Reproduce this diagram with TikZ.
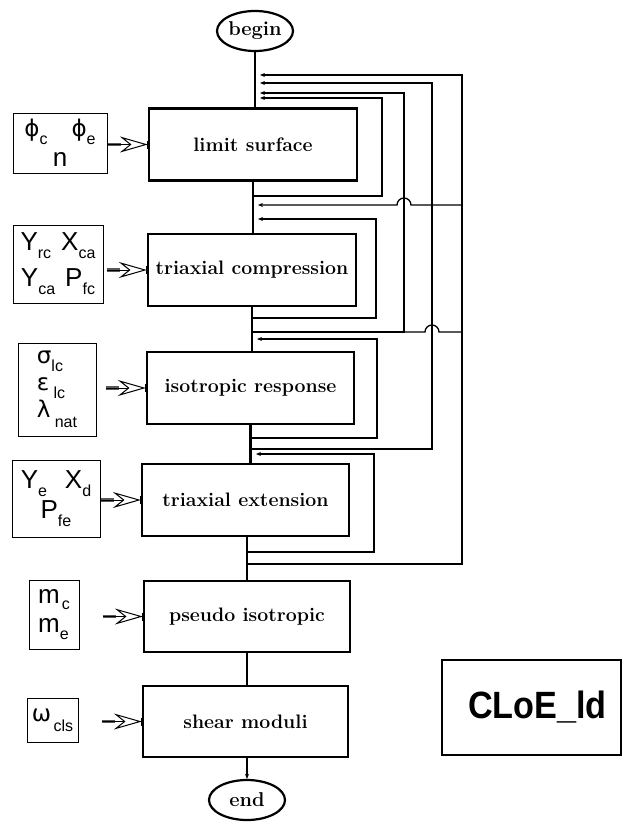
\documentclass[tikz,border=0pt]{standalone}
\usepackage{fontspec}
\usetikzlibrary{arrows.meta,calc,shapes.geometric}
\newfontfamily\pf{Liberation Sans}
\newfontfamily\gk{DejaVu Sans}
\newcommand\sbx[2][0.3em]{\raisebox{-#1}{\fontsize{16}{16}\selectfont\pf #2}}
\newcommand\G[1]{{\gk\fontsize{23}{26}\selectfont #1}}
\tikzset{
  stepbox/.style={draw, line width=2.3pt, inner sep=0pt, minimum height=72,
    font=\bfseries\fontsize{19.5}{23}\selectfont},
  term/.style={ellipse, draw, line width=2.2pt, inner sep=0pt, minimum width=76, minimum height=40,
    font=\bfseries\fontsize{20}{23}\selectfont},
  param/.style={draw, line width=0.9pt, inner sep=0pt, align=center,
    font=\pf\fontsize{26}{28}\selectfont},
  spine/.style={line width=2.3pt},
  fb/.style={line width=1.3pt},
  fbin/.style={fb, -{Stealth[length=5pt,width=4pt]}},
  inshaft/.style={line width=3.4pt, black!65},
  inhead/.style={line width=1pt, -{Stealth[open, length=28pt, width=16pt, inset=10pt]}},
}
\begin{document}
\begin{tikzpicture}[x=1pt,y=-1pt]
\useasboundingbox (0,0) rectangle (627,824);
% flow nodes
\node[term] (begin) at (255,31) {begin};
\node[stepbox, minimum width=208] (ls) at (253,144.5) {limit surface};
\node[stepbox, minimum width=208] (tc) at (252,270) {triaxial compression};
\node[stepbox, minimum width=207] (ir) at (250.5,388) {isotropic response};
\node[stepbox, minimum width=207] (te) at (245.5,500) {triaxial extension};
\node[stepbox, minimum width=206, minimum height=71] (pi) at (247,616.5) {pseudo isotropic};
\node[stepbox, minimum width=205, minimum height=71] (sm) at (245.5,721.5) {shear moduli};
\node[term] (end) at (247,800) {end};
\node[draw, line width=2.2pt, inner sep=0pt, minimum width=179, minimum height=95,
  font=\pf\bfseries\fontsize{38}{44}\selectfont] (cloe) at (531.5,707.5)
  {\hspace*{12pt}\scalebox{0.9}[1]{CLoE\_ld}};
% parameter boxes
\node[param, minimum width=94, minimum height=60] (p1) at (60,143)
  {\G{ϕ}\sbx{c}\hspace{24pt}\G{ϕ}\sbx{e}\\[2pt] n};
\node[param, minimum width=90, minimum height=78] (p2) at (58,264)
  {Y\sbx{rc}\hspace{10pt}X\sbx{ca}\\[8pt] Y\sbx{ca}\hspace{10pt}P\sbx{fc}};
\node[param, minimum width=78, minimum height=93, align=left] (p3) at (57,389.5)
  {\G{σ}\sbx{lc}\\[-1pt] \G{ε}\,\sbx{lc}\\[-1pt] \G{λ}\,\sbx[0.4em]{nat}};
\node[param, minimum width=88, minimum height=77] (p4) at (56,498.5)
  {Y\sbx{e}\hspace{18pt}X\sbx{d}\\[2pt] P\sbx{fe}};
\node[param, minimum width=50, minimum height=69, align=left] (p5) at (54,614.5)
  {m\sbx[0.25em]{\hspace{2pt}c}\\[1pt] m\sbx{e}};
\node[param, minimum width=51, minimum height=44] (p6) at (52.5,720)
  {\G{ω}\sbx[0.4em]{\,cls}};
% main spine
\draw[spine] (begin.south) -- (begin.south |- ls.north);
\draw[spine] (ls.south) -- (ls.south |- tc.north);
\draw[spine] (tc.south) -- (tc.south |- ir.north);
\draw[spine] (ir.south) -- (ir.south |- te.north);
\draw[spine] (pi.north |- te.south) -- (pi.north);
\draw[spine] (pi.south) -- (pi.south |- sm.north);
\draw[spine, -{Stealth[length=5pt,width=4pt]}] (sm.south -| end.north) -- (end.north);
% input arrows
\foreach \p/\b in {p1/ls, p2/tc, p3/ir, p4/te, p5/pi, p6/sm}{
  \draw[inshaft] ($(\b.west)+(-40,0)$) -- ($(\b.west)+(-27,0)$);
  \draw[inhead] ($(\b.west)+(-40,0)$) -- (\b.west);
  \draw[line width=1pt] ($(\b.west)+(0,-4)$) -- ($(\b.west)+(0,4)$);
}
% feedback loops
\coordinate (a1) at (247,564); \coordinate (b1) at (260,75);
\draw[fbin] (a1) -- (462,564) -- (462,75) -- (b1);
\coordinate (a2) at (250.5,449); \coordinate (b2) at (260,83);
\draw[fbin] (a2) -- (432,449) -- (432,83) -- (b2);
\coordinate (a3) at (252,332); \coordinate (b3) at (260,93);
\draw[fbin] (a3) -- (404,332) -- (404,93) -- (b3);
\draw[fb] (404,332) -- (425,332) arc[start angle=180, end angle=360, radius=7] -- (462,332);
\coordinate (a4) at (253,196); \coordinate (b4) at (260,98);
\draw[fbin] (a4) -- (382,196) -- (382,98) -- (b4);
\coordinate (b5) at (258,205);
\draw[fbin] (462,205) -- (411,205) arc[start angle=0, end angle=-180, radius=7] -- (b5);
\coordinate (a6) at (252,318); \coordinate (b6) at (258,219);
\draw[fbin] (a6) -- (376,318) -- (376,219) -- (b6);
\coordinate (a7) at (250.5,438); \coordinate (b7) at (257,339);
\draw[fbin] (a7) -- (377,438) -- (377,339) -- (b7);
\coordinate (a8) at (247,552); \coordinate (b8) at (256,454);
\draw[fbin] (a8) -- (374,552) -- (374,454) -- (b8);
\end{tikzpicture}
\end{document}
